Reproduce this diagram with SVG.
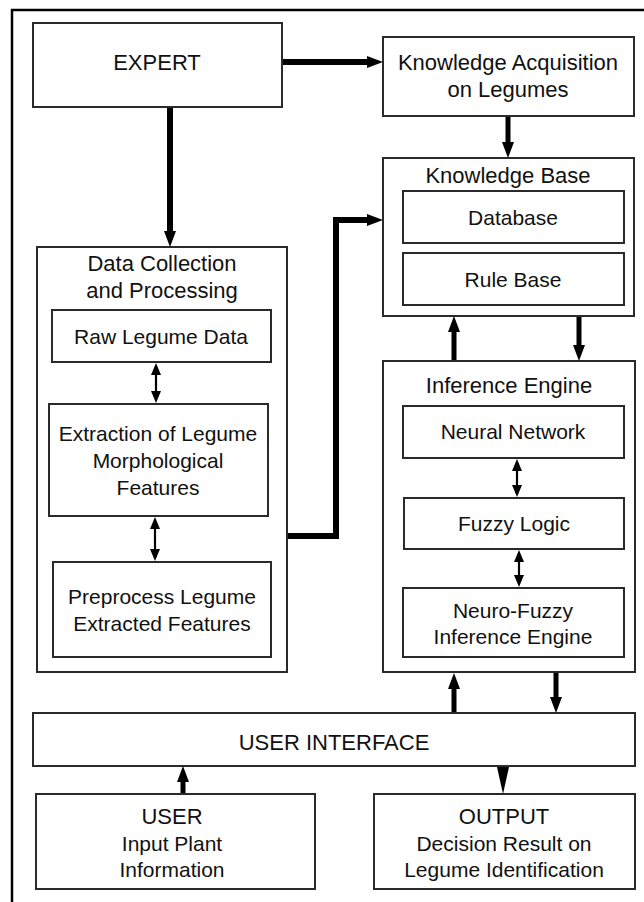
<svg xmlns="http://www.w3.org/2000/svg" width="644" height="902" viewBox="0 0 644 902">
<style>
.box{fill:#fff;stroke:#2a2a2a;stroke-width:2}
.t{font-family:"Liberation Sans",Arial,sans-serif;font-size:22px;fill:#111;text-anchor:middle}
.s{font-size:21px}
.thick{stroke:#000;stroke-width:6;fill:none}
.med{stroke:#000;stroke-width:5;fill:none}
.thin{stroke:#000;stroke-width:2.2;fill:none}
</style>
<defs>
<marker id="ah" markerUnits="userSpaceOnUse" viewBox="0 0 16 12" refX="1" refY="6" markerWidth="16" markerHeight="12" orient="auto"><path d="M0,0 L16,6 L0,12 z" fill="#000"/></marker>
<marker id="sh" markerUnits="userSpaceOnUse" viewBox="0 0 12 10" refX="1" refY="5" markerWidth="12" markerHeight="10" orient="auto-start-reverse"><path d="M0,0 L12,5 L0,10 z" fill="#000"/></marker>
</defs>
<rect width="644" height="902" fill="#fff"/>
<path d="M12,902 V10 H644" fill="none" stroke="#000" stroke-width="2.5"/>

<g id="expert"><rect class="box" x="33" y="23" width="249" height="84"/><text class="t" x="157" y="70">EXPERT</text></g>
<g id="knowledge-acquisition"><rect class="box" x="383" y="37" width="251" height="79"/><text class="t" x="508" y="70">Knowledge Acquisition</text><text class="t" x="508" y="97">on Legumes</text></g>
<g id="knowledge-base"><rect class="box" x="383" y="158" width="251" height="158"/><text class="t" x="508" y="183">Knowledge Base</text></g>
<g id="database"><rect class="box" x="403" y="191" width="221" height="52"/><text class="t s" x="513" y="225">Database</text></g>
<g id="rule-base"><rect class="box" x="403" y="253" width="221" height="52"/><text class="t s" x="513" y="287">Rule Base</text></g>
<g id="data-collection"><rect class="box" x="37" y="247" width="250" height="425"/><text class="t" x="162" y="271">Data Collection</text><text class="t" x="162" y="298">and Processing</text></g>
<g id="raw-data"><rect class="box" x="52" y="310" width="219" height="52"/><text class="t s" x="161" y="344">Raw Legume Data</text></g>
<g id="extraction"><rect class="box" x="49" y="404" width="219" height="112"/><text class="t s" x="158" y="441">Extraction of Legume</text><text class="t s" x="158" y="468">Morphological</text><text class="t s" x="158" y="495">Features</text></g>
<g id="preprocess"><rect class="box" x="53" y="562" width="218" height="95"/><text class="t s" x="162" y="604">Preprocess Legume</text><text class="t s" x="162" y="631">Extracted Features</text></g>
<g id="inference-engine"><rect class="box" x="383" y="361" width="252" height="311"/><text class="t" x="509" y="393">Inference Engine</text></g>
<g id="neural-network"><rect class="box" x="403" y="406" width="221" height="52"/><text class="t s" x="513" y="439">Neural Network</text></g>
<g id="fuzzy-logic"><rect class="box" x="404" y="498" width="220" height="51"/><text class="t s" x="514" y="531">Fuzzy Logic</text></g>
<g id="neuro-fuzzy"><rect class="box" x="403" y="588" width="221" height="69"/><text class="t s" x="513" y="618">Neuro-Fuzzy</text><text class="t s" x="513" y="644">Inference Engine</text></g>
<g id="user-interface"><rect class="box" x="33" y="713" width="602" height="53"/><text class="t" x="334" y="750">USER INTERFACE</text></g>
<g id="user"><rect class="box" x="36" y="794" width="279" height="95"/><text class="t" x="172" y="824">USER</text><text class="t s" x="172" y="851">Input Plant</text><text class="t s" x="172" y="877">Information</text></g>
<g id="output"><rect class="box" x="374" y="794" width="261" height="95"/><text class="t" x="504" y="824">OUTPUT</text><text class="t s" x="504" y="851">Decision Result on</text><text class="t s" x="504" y="877">Legume Identification</text></g>

<g id="connectors">
<path class="thick" d="M283,62 H368" marker-end="url(#ah)"/>
<path class="thick" d="M170,108 V232" marker-end="url(#ah)"/>
<path class="med" d="M508,117 V143" marker-end="url(#ah)"/>
<path class="thick" d="M288,536 H336 V220 H368" marker-end="url(#ah)"/>
<path class="med" d="M454,360 V331" marker-end="url(#ah)"/>
<path class="med" d="M579,317 V346" marker-end="url(#ah)"/>
<path class="thin" d="M156,374 V392" marker-start="url(#sh)" marker-end="url(#sh)"/>
<path class="thin" d="M155,528 V550" marker-start="url(#sh)" marker-end="url(#sh)"/>
<path class="thin" d="M517,470 V486" marker-start="url(#sh)" marker-end="url(#sh)"/>
<path class="thin" d="M519,561 V576" marker-start="url(#sh)" marker-end="url(#sh)"/>
<path class="med" d="M454,712 V688" marker-end="url(#ah)"/>
<path class="med" d="M556,673 V698" marker-end="url(#ah)"/>
<path class="med" d="M183,793 V781" marker-end="url(#ah)"/>
<polygon points="497,767 509,767 503,794" fill="#000"/>
</g>
</svg>
